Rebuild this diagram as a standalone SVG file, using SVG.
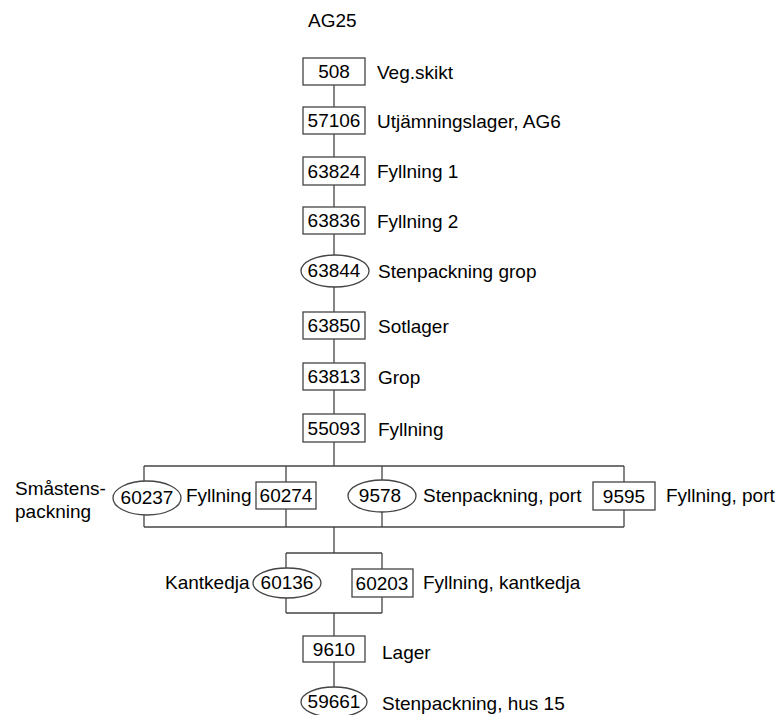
<svg xmlns="http://www.w3.org/2000/svg" width="779" height="715" viewBox="0 0 779 715">
  <style>
    text { font-family: "Liberation Sans", Arial, sans-serif; font-size: 19px; fill: #000; }
    .id { text-anchor: middle; }
    .node rect, .node ellipse { fill: #fff; stroke: #444; stroke-width: 1.3; }
    .edges line, .edges polyline { stroke: #444; stroke-width: 1.3; fill: none; }
  </style>
  <rect width="779" height="715" fill="#fff"/>

  <text x="308" y="27">AG25</text>

  <g class="edges">
    <!-- main column -->
    <line x1="334" y1="85" x2="334" y2="466"/>
    <!-- upper branch frame -->
    <polyline points="144,466 624,466"/>
    <polyline points="144,527 624,527"/>
    <line x1="144" y1="466" x2="144" y2="527"/>
    <line x1="286" y1="466" x2="286" y2="527"/>
    <line x1="382" y1="466" x2="382" y2="527"/>
    <line x1="624" y1="466" x2="624" y2="527"/>
    <line x1="334" y1="527" x2="334" y2="553"/>
    <!-- lower branch frame -->
    <polyline points="286,553 382,553"/>
    <polyline points="286,613 382,613"/>
    <line x1="286" y1="553" x2="286" y2="613"/>
    <line x1="382" y1="553" x2="382" y2="613"/>
    <line x1="334" y1="613" x2="334" y2="688"/>
  </g>

  <g id="n508" class="node"><rect x="303" y="58" width="62" height="27"/><text class="id" x="334" y="78">508</text><text x="377" y="79">Veg.skikt</text></g>
  <g id="n57106" class="node"><rect x="303" y="107" width="62" height="27"/><text class="id" x="334" y="127">57106</text><text x="377" y="128">Utjämningslager, AG6</text></g>
  <g id="n63824" class="node"><rect x="303" y="157" width="62" height="28"/><text class="id" x="334" y="178">63824</text><text x="377" y="178">Fyllning 1</text></g>
  <g id="n63836" class="node"><rect x="303" y="207" width="62" height="27"/><text class="id" x="334" y="227">63836</text><text x="377" y="228">Fyllning 2</text></g>
  <g id="n63844" class="node"><ellipse cx="335" cy="271" rx="34" ry="16"/><text class="id" x="334" y="277">63844</text><text x="378" y="278">Stenpackning grop</text></g>
  <g id="n63850" class="node"><rect x="303" y="312" width="62" height="27"/><text class="id" x="334" y="332">63850</text><text x="378" y="333">Sotlager</text></g>
  <g id="n63813" class="node"><rect x="303" y="363" width="62" height="27"/><text class="id" x="334" y="383">63813</text><text x="378" y="384">Grop</text></g>
  <g id="n55093" class="node"><rect x="303" y="414" width="62" height="28"/><text class="id" x="334" y="435">55093</text><text x="378" y="436">Fyllning</text></g>

  <g id="n60237" class="node"><ellipse cx="147" cy="498" rx="34" ry="17"/><text class="id" x="147" y="504">60237</text><text x="15" y="495">Småstens-</text><text x="15" y="518">packning</text></g>
  <g id="n60274" class="node"><rect x="256" y="482" width="60" height="27"/><text class="id" x="286" y="502">60274</text><text x="186" y="502">Fyllning</text></g>
  <g id="n9578" class="node"><ellipse cx="382" cy="496" rx="34" ry="16"/><text class="id" x="380" y="502">9578</text><text x="423" y="502">Stenpackning, port</text></g>
  <g id="n9595" class="node"><rect x="593" y="482" width="62" height="28"/><text class="id" x="624" y="503">9595</text><text x="666" y="502">Fyllning, port</text></g>

  <g id="n60136" class="node"><ellipse cx="287" cy="583" rx="34" ry="15"/><text class="id" x="287" y="589">60136</text><text x="165" y="589">Kantkedja</text></g>
  <g id="n60203" class="node"><rect x="352" y="569" width="61" height="28"/><text class="id" x="382" y="590">60203</text><text x="423" y="589">Fyllning, kantkedja</text></g>

  <g id="n9610" class="node"><rect x="303" y="636" width="62" height="26"/><text class="id" x="334" y="656">9610</text><text x="382" y="659">Lager</text></g>
  <g id="n59661" class="node"><ellipse cx="334" cy="702" rx="33" ry="15"/><text class="id" x="334" y="708">59661</text><text x="382" y="710">Stenpackning, hus 15</text></g>
</svg>
